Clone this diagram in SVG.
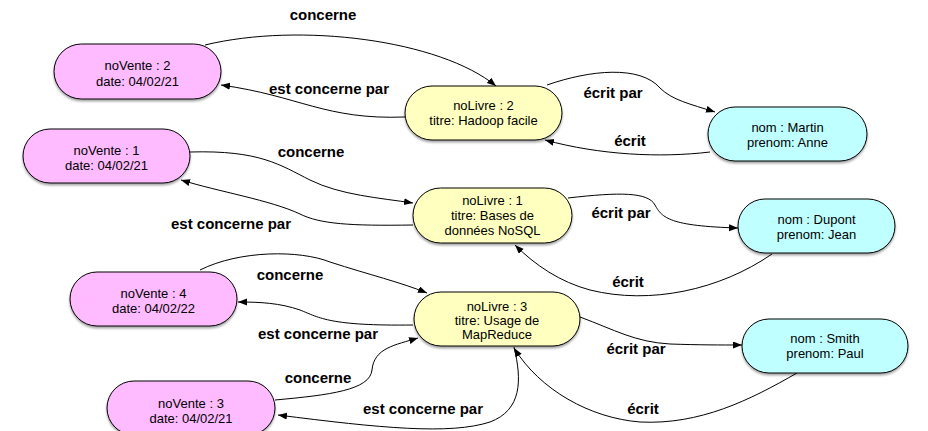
<svg xmlns="http://www.w3.org/2000/svg" width="928" height="431" viewBox="0 0 928 431">
  <defs>
    <marker id="arrow" markerUnits="userSpaceOnUse" markerWidth="10" markerHeight="8" refX="9" refY="3.5" orient="auto">
      <path d="M0,0 L9,3.5 L0,7 z" fill="#000"/>
    </marker>
    <filter id="shadow" x="-10%" y="-20%" width="120%" height="150%">
      <feDropShadow dx="0" dy="2" stdDeviation="1.2" flood-color="#000" flood-opacity="0.35"/>
    </filter>
  </defs>
  <style>
    .node rect { stroke: #000; stroke-width: 1; filter: url(#shadow); }
    .vente rect { fill: #FFBBFF; }
    .livre rect { fill: #FFFFC0; }
    .auteur rect { fill: #C0FFFF; }
    .node text { font-family: "Liberation Sans", Arial, sans-serif; font-size: 13px; fill: #000; text-anchor: middle; }
    .edges path { fill: none; stroke: #000; stroke-width: 1; marker-end: url(#arrow); }
    .edges text { font-family: "Liberation Sans", Arial, sans-serif; font-size: 15px; font-weight: bold; fill: #000; text-anchor: middle; }
  </style>

  <!-- connectors -->
  <g id="edges" class="edges">
    <!-- vente 2 / livre 2 -->
    <path d="M205,45 C300,22 440,40 496,86"/>
    <text x="323" y="20">concerne</text>
    <path d="M405,117 C325,120 300,96 221,85"/>
    <text x="329" y="94">est concerne par</text>
    <!-- livre 2 / Martin -->
    <path d="M547,85 C590,70 640,65 660,88 C672,100 690,104 715,112"/>
    <text x="613" y="98">écrit par</text>
    <path d="M710,152 C660,158 600,155 545,140"/>
    <text x="630" y="146">écrit</text>
    <!-- vente 1 / livre 1 -->
    <path d="M190,152 C260,150 280,165 310,180 C340,195 380,198 413,203"/>
    <text x="311" y="157">concerne</text>
    <path d="M413,225 C350,226 320,224 300,214 C270,200 220,192 181,180"/>
    <text x="231" y="229">est concerne par</text>
    <!-- livre 1 / Dupont -->
    <path d="M568,198 C620,192 648,192 655,205 C662,218 670,226 738,228"/>
    <text x="621" y="218">écrit par</text>
    <path d="M772,254 C720,290 650,305 590,290 C560,282 535,265 515,245"/>
    <text x="628" y="287">écrit</text>
    <!-- vente 4 / livre 3 -->
    <path d="M200,270 C240,250 300,250 330,262 C370,275 400,282 427,293"/>
    <text x="290" y="280">concerne</text>
    <path d="M413,325 C330,326 320,318 300,310 C280,303 260,302 238,302"/>
    <text x="318" y="339">est concerne par</text>
    <!-- vente 3 / livre 3 -->
    <path d="M275,400 C330,395 370,390 372,370 C374,348 395,345 418,338"/>
    <text x="318" y="383">concerne</text>
    <path d="M514,347 C522,380 522,410 490,422 C450,435 380,428 278,415"/>
    <text x="423" y="414">est concerne par</text>
    <!-- livre 3 / Smith -->
    <path d="M580,317 C615,330 635,342 670,344 C700,345 720,345 742,345"/>
    <text x="636" y="354">écrit par</text>
    <path d="M797,373 C750,400 700,425 640,422 C590,418 540,390 514,348"/>
    <text x="643" y="414">écrit</text>
  </g>

  <!-- ventes -->
  <g id="vente2" class="node vente">
    <rect x="54" y="44" width="167" height="55" rx="27.5"/>
    <text x="137.5" y="70">noVente : 2</text>
    <text x="137.5" y="86">date: 04/02/21</text>
  </g>
  <g id="vente1" class="node vente">
    <rect x="23" y="129" width="167" height="54" rx="27"/>
    <text x="106.5" y="155">noVente : 1</text>
    <text x="106.5" y="170">date: 04/02/21</text>
  </g>
  <g id="vente4" class="node vente">
    <rect x="70" y="272" width="167" height="54" rx="27"/>
    <text x="153.5" y="298">noVente : 4</text>
    <text x="153.5" y="313">date: 04/02/22</text>
  </g>
  <g id="vente3" class="node vente">
    <rect x="107" y="381" width="168" height="54" rx="27"/>
    <text x="191" y="408">noVente : 3</text>
    <text x="191" y="423">date: 04/02/21</text>
  </g>

  <!-- livres -->
  <g id="livre2" class="node livre">
    <rect x="405" y="86" width="157" height="54" rx="27"/>
    <text x="483.5" y="110">noLivre : 2</text>
    <text x="483.5" y="125">titre: Hadoop facile</text>
  </g>
  <g id="livre1" class="node livre">
    <rect x="413" y="188" width="159" height="55" rx="27.5"/>
    <text x="492.5" y="205">noLivre : 1</text>
    <text x="492.5" y="220">titre: Bases de</text>
    <text x="492.5" y="235">données NoSQL</text>
  </g>
  <g id="livre3" class="node livre">
    <rect x="414" y="292" width="166" height="54" rx="27"/>
    <text x="497" y="311">noLivre : 3</text>
    <text x="497" y="325">titre: Usage de</text>
    <text x="497" y="339">MapReduce</text>
  </g>

  <!-- auteurs -->
  <g id="martin" class="node auteur">
    <rect x="708" y="107" width="159" height="54" rx="27"/>
    <text x="787.5" y="132">nom : Martin</text>
    <text x="787.5" y="147">prenom: Anne</text>
  </g>
  <g id="dupont" class="node auteur">
    <rect x="738" y="199" width="157" height="54" rx="27"/>
    <text x="816.5" y="224">nom : Dupont</text>
    <text x="816.5" y="239">prenom: Jean</text>
  </g>
  <g id="smith" class="node auteur">
    <rect x="742" y="319" width="166" height="54" rx="27"/>
    <text x="825" y="343">nom : Smith</text>
    <text x="825" y="358">prenom: Paul</text>
  </g>
</svg>
